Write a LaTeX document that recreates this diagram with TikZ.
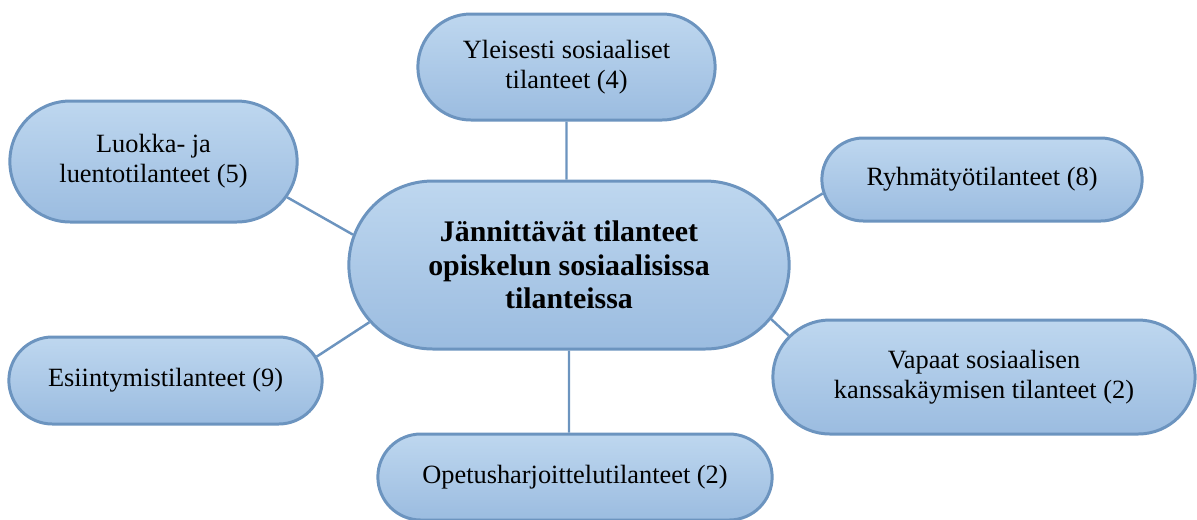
\documentclass[tikz,border=0pt]{standalone}
\usepackage{fontspec}
\setmainfont{Liberation Serif}
\usetikzlibrary{shapes.misc, positioning}
\definecolor{bubbletop}{RGB}{190,215,239}
\definecolor{bubblebottom}{RGB}{155,188,224}
\definecolor{bubbleline}{RGB}{108,148,191}
\tikzset{
on grid, % distances are measured between the node centres
bubble/.style={rounded rectangle, draw=bubbleline, line width=1.7pt, top color=bubbletop, bottom color=bubblebottom, align=center, font=\fontsize{15}{17}\selectfont}, % every theme box
hub/.style={bubble, font=\bfseries\fontsize{17}{19}\selectfont}, % the box in the middle
link/.style={draw=bubbleline, line width=1.4pt}, % plain connector lines
}

\begin{document}
\begin{tikzpicture}
              \useasboundingbox (0,0) rectangle (23.94,-10.38);
              \node[hub, minimum width=9.04cm, minimum height=3.36cm] (main) at (11.38,-5.30) {J\"annitt\"av\"at tilanteet\\opiskelun sosiaalisissa\\tilanteissa};
              \node[bubble, above=3.96cm of main, xshift=-0.05cm, minimum width=6.18cm, minimum height=2.12cm] (yl) {Yleisesti sosiaaliset\\tilanteet (4)};
              \node[bubble, above left=2.07cm and 8.31cm of main, minimum width=5.98cm, minimum height=2.42cm] (lu) {Luokka- ja\\luentotilanteet (5)};
              \node[bubble, above right=1.71cm and 8.26cm of main, minimum width=6.64cm, minimum height=1.66cm] (ry) {Ryhm\"aty\"otilanteet (8)};
              \node[bubble, below left=2.31cm and 8.07cm of main, minimum width=6.50cm, minimum height=1.74cm] (es) {Esiintymistilanteet (9)};
              \node[bubble, below right=2.24cm and 8.30cm of main, minimum width=8.68cm, minimum height=2.28cm] (va) {Vapaat sosiaalisen\\kanssak\"aymisen tilanteet (2)};
              \node[bubble, below=4.24cm of main, xshift=0.12cm, minimum width=8.12cm, minimum height=1.72cm] (op) {Opetusharjoittelutilanteet (2)};

              \draw[link]
              (yl.south) -- (yl.south |- main.north)
              (lu.-15) -- (main.172)
              (ry.185) -- (main.12)
              (es.9) -- (main.196)
              (va.168) -- (main.-15)
              (main.south) -- (main.south |- op.north)
              ;
            \end{tikzpicture}
\end{document}
